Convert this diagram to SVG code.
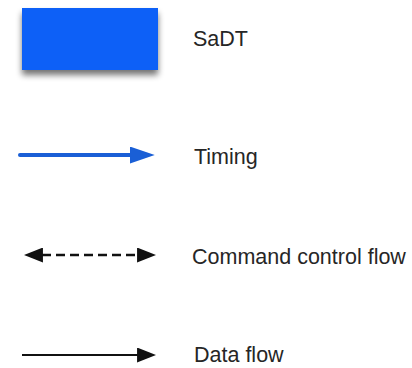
<svg xmlns="http://www.w3.org/2000/svg" width="412" height="368" viewBox="0 0 412 368">
  <style>
    .label { font-family: "Liberation Sans", Arial, sans-serif; font-size: 21.5px; fill: #262626; }
    .timing { stroke: #1a5fd6; stroke-width: 4; stroke-linecap: round; fill: none; }
    .command { stroke: #111; stroke-width: 2.5; stroke-dasharray: 9 5; fill: none; }
    .data { stroke: #111; stroke-width: 2; fill: none; }
  </style>
  <defs>
    <filter id="shadow" x="-20%" y="-20%" width="140%" height="160%">
      <feGaussianBlur in="SourceAlpha" stdDeviation="3"/>
      <feOffset dx="0" dy="5" result="b"/>
      <feComponentTransfer><feFuncA type="linear" slope="0.55"/></feComponentTransfer>
      <feMerge><feMergeNode/><feMergeNode in="SourceGraphic"/></feMerge>
    </filter>
    <marker id="blueHead" viewBox="0 0 10 10" refX="0.5" refY="5" markerWidth="25" markerHeight="17" markerUnits="userSpaceOnUse" preserveAspectRatio="none" orient="auto">
      <path d="M0,0 L10,5 L0,10 Z" fill="#1a5fd6"/>
    </marker>
    <marker id="blackHead" viewBox="0 0 10 10" refX="0.5" refY="5" markerWidth="19" markerHeight="15" markerUnits="userSpaceOnUse" preserveAspectRatio="none" orient="auto-start-reverse">
      <path d="M0,0 L10,5 L0,10 Z" fill="#111"/>
    </marker>
  </defs>
  <rect width="412" height="368" fill="#ffffff"/>

  <!-- legend swatches -->
  <g id="sadt">
    <rect x="22" y="8" width="136" height="62" fill="#1161f7" filter="url(#shadow)"/>
    <text class="label" x="193" y="46">SaDT</text>
  </g>

  <g id="connectors">
    <line id="timing-line" class="timing" x1="20" y1="155" x2="131" y2="155" marker-end="url(#blueHead)"/>
    <line id="command-line" class="command" x1="42" y1="255" x2="138" y2="255" marker-start="url(#blackHead)" marker-end="url(#blackHead)"/>
    <line id="data-line" class="data" x1="22" y1="355" x2="138" y2="355" marker-end="url(#blackHead)"/>
  </g>

  <g id="timing"><text class="label" x="194" y="164">Timing</text></g>
  <g id="command"><text class="label" x="192" y="264">Command control flow</text></g>
  <g id="data"><text class="label" x="194" y="362">Data flow</text></g>
</svg>
